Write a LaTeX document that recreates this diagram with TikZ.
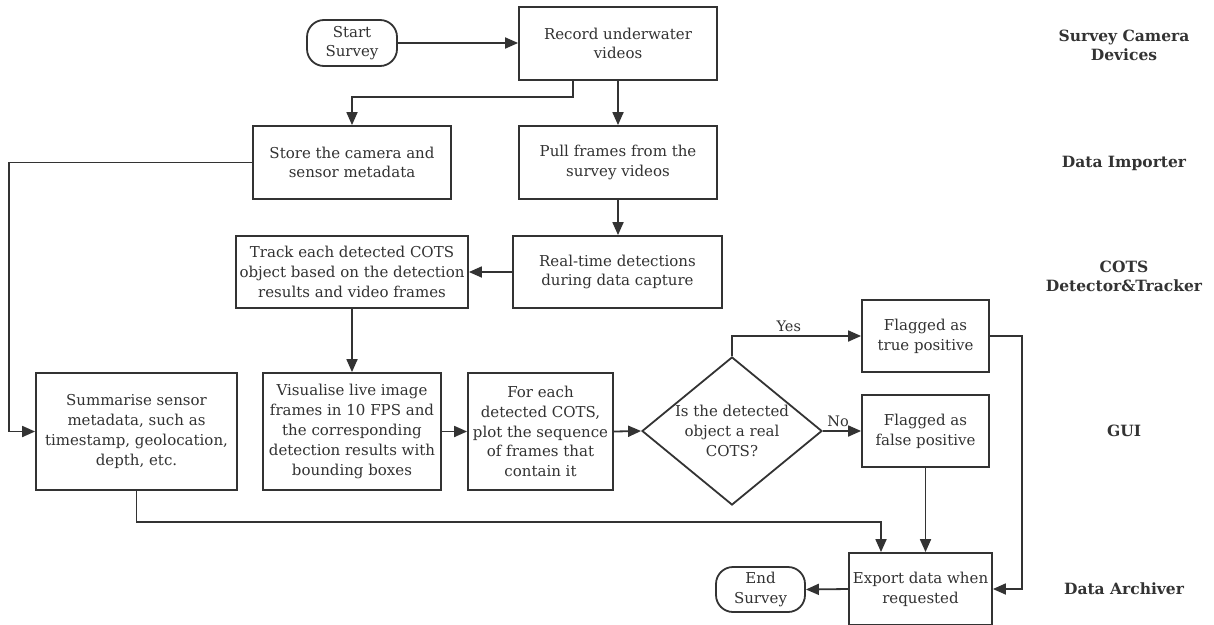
\documentclass[tikz,border=0pt]{standalone}
\usepackage{fontspec}
\setmainfont{DejaVu Serif}
\usetikzlibrary{arrows.meta,shapes.geometric}
\definecolor{ink}{RGB}{51,51,51}
\definecolor{txt}{RGB}{50,50,50}
\begin{document}
\begin{tikzpicture}[x=1pt,y=-1pt,
  every node/.style={text=txt,font=\fontsize{15}{19.8}\selectfont},
  box/.style={draw=ink,line width=1.8pt,fill=white,align=center,inner sep=1pt},
  term/.style={box,rounded corners=17pt},
  decision/.style={draw=ink,line width=1.8pt,shape=diamond,inner sep=0pt,minimum width=180pt,minimum height=148pt},
  lane/.style={align=center,text=ink,font=\fontsize{15.5}{19}\selectfont\bfseries},
  lbl/.style={text=txt,font=\fontsize{14.5}{16}\selectfont},
  arr/.style={draw=ink,line width=1.8pt,-{Triangle[length=13pt,width=11pt]}},
  ln/.style={draw=ink,line width=1.8pt}]
\useasboundingbox (0,0) rectangle (1214,624);

\node[term,minimum width=90pt,minimum height=46pt] (start) at (352,43) {Start\\Survey};
\node[box,minimum width=198pt,minimum height=73pt] (rec) at (618,43.5) {Record underwater\\videos};
\node[box,minimum width=198pt,minimum height=73pt] (store) at (352,162.5) {Store the camera and\\sensor metadata};
\node[box,minimum width=198pt,minimum height=73pt] (pull) at (618,162.5) {Pull frames from the\\survey videos};
\node[box,minimum width=209pt,minimum height=72pt] (rt) at (617.5,272) {Real-time detections\\during data capture};
\node[box,minimum width=232pt,minimum height=72pt] (track) at (352,272) {Track each detected COTS\\object based on the detection\\results and video frames};
\node[box,minimum width=201pt,minimum height=117pt] (summ) at (136.5,431.5) {Summarise sensor\\metadata, such as\\timestamp, geolocation,\\depth, etc.};
\node[box,minimum width=178pt,minimum height=117pt] (vis) at (352,431.5) {Visualise live image\\frames in 10 FPS and\\the corresponding\\detection results with\\bounding boxes};
\node[box,minimum width=145pt,minimum height=117pt] (foreach) at (540.5,431.5) {For each\\detected COTS,\\plot the sequence\\of frames that\\contain it};
\node[decision] (dia) at (732,431) {};
\node[align=center] (diatxt) at (dia.center) {Is the detected\\object a real\\COTS?};
\node[box,minimum width=127pt,minimum height=72pt] (truep) at (925.5,336) {Flagged as\\true positive};
\node[box,minimum width=127pt,minimum height=72pt] (falsep) at (925.5,431) {Flagged as\\false positive};
\node[box,minimum width=143pt,minimum height=72pt] (export) at (920.5,589) {Export data when\\requested};
\node[term,minimum width=89pt,minimum height=45pt] (endn) at (760.5,589.5) {End\\Survey};

\node[lane] (l1) at (1124,45) {Survey Camera\\Devices};
\node[lane] (l2) at (1124,163) {Data Importer};
\node[lane] (l3) at (1124,276) {COTS\\Detector\&Tracker};
\node[lane] (l4) at (1124,431) {GUI};
\node[lane] (l5) at (1124,589) {Data Archiver};

\coordinate (lft) at (9,0);
\coordinate (rgt) at (1022,0);

\draw[arr] (start.east) -- (start.east -| rec.west);
\draw[arr] ([xshift=-45pt]rec.south) -- ++(0,16) -| (store.north);
\draw[arr] (rec.south) -- (pull.north);
\draw[arr] (pull.south) -- (pull.south |- rt.north);
\draw[arr] (rt.west) -- (track.east);
\draw[arr] (store.west) -- (store.west -| lft) |- (summ.west);
\draw[arr] (track.south) -- (vis.north);
\draw[arr] (vis.east) -- (foreach.west);
\draw[arr] (foreach.east) -- (dia.west);
\draw[arr] (dia.north) |- node[lbl,pos=0.72,above,inner sep=3pt] (yes) {Yes} (truep.west);
\draw[arr] (dia.east) -- node[lbl,pos=0.4,above,inner sep=3pt] (no) {No} (falsep.west);
\draw[arr] (truep.east) -- (truep.east -| rgt) |- (export.east);
\draw[arr] (falsep.south) -- (falsep.south |- export.north);
\draw[arr] (summ.south) -- ++(0,31) -| ([xshift=-39.5pt]export.north);
\draw[arr] (export.west) -- (endn.east);
\end{tikzpicture}
\end{document}
